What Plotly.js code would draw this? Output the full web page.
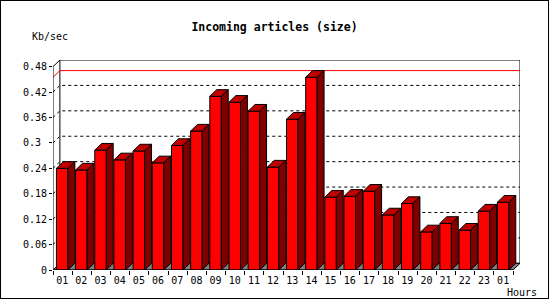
<!DOCTYPE html>
<html>
<head>
<meta charset="utf-8">
<script src="https://cdn.plot.ly/plotly-3.0.1.min.js"></script>
<style>
  html, body { margin: 0; padding: 0; background: #fff; }
  #chart { width: 547px; height: 297px; border: 1px solid #000; }
</style>
</head>
<body>
<div id="chart"></div>
<script>
// ---- data ----
const hours = ['01','02','03','04','05','06','07','08','09','10','11','12',
               '13','14','15','16','17','18','19','20','21','22','23','01'];
const kbPerSec = [0.240,0.236,0.283,0.260,0.281,0.253,0.294,0.328,0.410,0.396,0.375,0.243,
                  0.356,0.455,0.172,0.174,0.186,0.130,0.157,0.090,0.110,0.094,0.139,0.160];
const yTickVals = [0,0.06,0.12,0.18,0.24,0.30,0.36,0.42,0.48];
const yTickText = ['0','0.06','0.12','0.18','0.24','0.3\u00a0','0.36','0.42','0.48'];

// ---- geometry (style) ----
const n = hours.length;
const yMax = 0.48;
const dx = 0.36;          // depth in category units
const dy = 0.0158;        // depth in value units
const barOff = 0.48;      // bar centre within category
const barW = 0.6;
const FONT = 'DejaVu Sans Mono, Liberation Mono, monospace';

const centers = hours.map((h, i) => i + barOff);

// top and side faces built from data
const topX = [], topY = [], sideX = [], sideY = [];
kbPerSec.forEach((v, i) => {
  const x0 = centers[i] - barW / 2, x1 = centers[i] + barW / 2;
  topX.push(x0, x0 + dx, x1 + dx, x1, x0, null);
  topY.push(v, v + dy, v + dy, v, v, null);
  sideX.push(x1, x1, x1 + dx, x1 + dx, x1, null);
  sideY.push(0, v, v + dy, dy, 0, null);
});

const traces = [
  { type: 'bar', x: centers, y: kbPerSec, width: barW,
    marker: { color: '#ff0000', line: { color: '#000', width: 1 } },
    hoverinfo: 'skip', showlegend: false },
  { type: 'scatter', mode: 'lines', x: topX, y: topY, fill: 'toself',
    fillcolor: '#c00000', line: { color: '#000', width: 1 }, hoverinfo: 'skip', showlegend: false },
  { type: 'scatter', mode: 'lines', x: sideX, y: sideY, fill: 'toself',
    fillcolor: '#800000', line: { color: '#000', width: 1 }, hoverinfo: 'skip', showlegend: false }
];

const shapes = [];
// back wall
shapes.push({ type: 'path', layer: 'below', xref: 'x', yref: 'y',
  path: `M ${dx},${dy} L ${dx},${yMax + dy} L ${n + dx},${yMax + dy} L ${n + dx},${dy} Z`,
  fillcolor: '#fff', line: { color: '#000', width: 1 } });
// dashed grid lines
yTickVals.filter(v => v > 0 && v < yMax).forEach(v => {
  shapes.push({ type: 'path', layer: 'below', xref: 'x', yref: 'y',
    path: `M 0,${v} L ${dx},${v + dy} L ${n + dx},${v + dy}`,
    line: { color: '#000', width: 1, dash: '3px,3px' } });
});
// max line
const vMax = Math.max(...kbPerSec);
shapes.push({ type: 'path', layer: 'below', xref: 'x', yref: 'y',
  path: `M 0,${vMax} L ${dx},${vMax + dy} L ${n + dx},${vMax + dy}`,
  line: { color: '#ff0000', width: 1 } });
// floor
shapes.push({ type: 'path', layer: 'below', xref: 'x', yref: 'y',
  path: `M 0,0 L ${dx},${dy} L ${n + dx},${dy} L ${n},0 Z`,
  fillcolor: '#808080', line: { color: '#000', width: 1 } });
// front axis lines
shapes.push({ type: 'path', layer: 'above', xref: 'x', yref: 'y',
  path: `M ${dx},${yMax + dy} L 0,${yMax} L 0,0 L ${n},0`,
  line: { color: '#000', width: 1 } });

const layout = {
  width: 547, height: 297,
  margin: { l: 52, r: 28, t: 59, b: 28, pad: 0 },
  paper_bgcolor: '#fff', plot_bgcolor: '#fff',
  showlegend: false,
  title: { text: 'Incoming articles (size)', x: 0.5, xref: 'container', xanchor: 'center',
           y: 1 - 25.7 / 297, yref: 'container', yanchor: 'middle',
           font: { family: FONT, size: 11.5, color: '#000', weight: 'bold' } },
  xaxis: { range: [0, n + dx], showgrid: false, zeroline: false, showline: false,
           tickmode: 'array', tickvals: centers, ticktext: hours, ticks: '',
           ticklabelstandoff: 3,
           tickfont: { family: FONT, size: 10, color: '#000' },
           minor: { tickmode: 'linear', tick0: 0, dtick: 1, ticks: 'outside', ticklen: 4,
                    tickcolor: '#000', tickwidth: 1, showgrid: false },
           fixedrange: true },
  yaxis: { range: [0, yMax + dy], showgrid: false, zeroline: false, showline: false,
           tickmode: 'array', tickvals: yTickVals, ticktext: yTickText,
           ticks: 'outside', ticklen: 3, tickcolor: '#000', tickwidth: 1,
           tickfont: { family: FONT, size: 10, color: '#000' }, fixedrange: true },
  shapes: shapes,
  annotations: [
    { text: 'Kb/sec', xref: 'paper', yref: 'paper', x: 0, y: 1, xanchor: 'left', yanchor: 'middle',
      xshift: -23, yshift: 23.3, showarrow: false, font: { family: FONT, size: 10, color: '#000' } },
    { text: 'Hours', xref: 'paper', yref: 'paper', x: 452 / 467, y: 0, xanchor: 'left', yanchor: 'middle',
      yshift: -22.7, showarrow: false, font: { family: FONT, size: 10, color: '#000' } }
  ]
};

Plotly.newPlot('chart', traces, layout, { staticPlot: true, displayModeBar: false });
</script>
</body>
</html>
